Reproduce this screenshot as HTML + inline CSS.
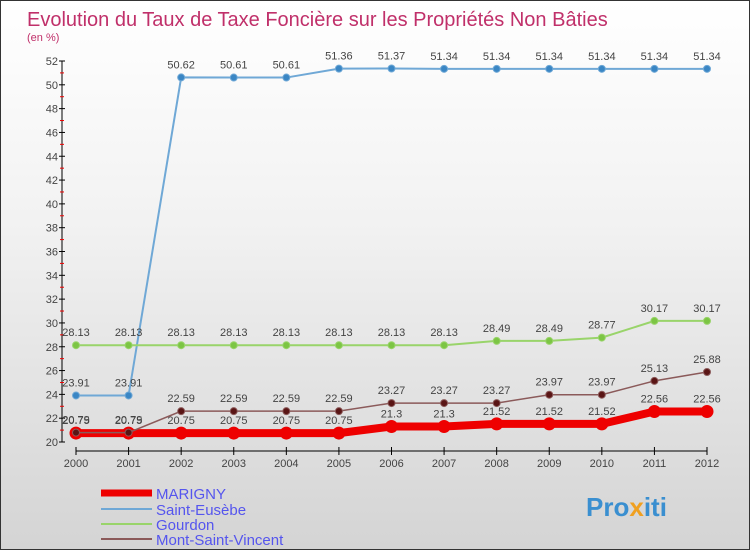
<!DOCTYPE html>
<html><head><meta charset="utf-8"><style>
body{margin:0}
#c{width:750px;height:550px;position:relative;overflow:hidden;box-sizing:border-box;border:1px solid #333;background:linear-gradient(#ffffff,#f2f2f2 40%,#d4d4d4);font-family:"Liberation Sans",sans-serif}
</style></head><body>
<div id="c">
<svg id="s" width="750" height="550" style="position:absolute;left:0;top:0">
<text x="26" y="25" font-size="20" fill="#c0306a">Evolution du Taux de Taxe Foncière sur les Propriétés Non Bâties</text>
<text x="26" y="40" font-size="11" fill="#c0306a">(en %)</text>
<g id="axes"></g><g id="series"></g>
<g>
<line x1="100" y1="492" x2="151" y2="492" stroke="#ee0000" stroke-width="7"/>
<text x="155" y="498" font-size="15" fill="#5555ee">MARIGNY</text>
<line x1="100" y1="508" x2="151" y2="508" stroke="#6fa8d6" stroke-width="2"/>
<text x="155" y="514" font-size="15" fill="#5555ee">Saint-Eusèbe</text>
<line x1="100" y1="523" x2="151" y2="523" stroke="#99d46a" stroke-width="2"/>
<text x="155" y="529" font-size="15" fill="#5555ee">Gourdon</text>
<line x1="100" y1="538" x2="151" y2="538" stroke="#8b5a5a" stroke-width="2"/>
<text x="155" y="544" font-size="15" fill="#5555ee">Mont-Saint-Vincent</text>
</g>
<text x="585" y="515" font-size="26" font-weight="bold" fill="#3a8fd0">Pro<tspan fill="#f0a020">x</tspan>iti</text>
</svg>
</div>
<script>
const years=[2000,2001,2002,2003,2004,2005,2006,2007,2008,2009,2010,2011,2012];
const marigny=[20.75,20.75,20.75,20.75,20.75,20.75,21.3,21.3,21.52,21.52,21.52,22.56,22.56];
const saintEusebe=[23.91,23.91,50.62,50.61,50.61,51.36,51.37,51.34,51.34,51.34,51.34,51.34,51.34];
const gourdon=[28.13,28.13,28.13,28.13,28.13,28.13,28.13,28.13,28.49,28.49,28.77,30.17,30.17];
const montSaintVincent=[20.79,20.79,22.59,22.59,22.59,22.59,23.27,23.27,23.27,23.97,23.97,25.13,25.88];
const yTicks=[20,22,24,26,28,30,32,34,36,38,40,42,44,46,48,50,52];
const NS="http://www.w3.org/2000/svg";
const X=i=>75+i*(706-75)/(years.length-1);
const Y=v=>441-(v-20)*(441-60)/32;
function mk(t,a,p){const e=document.createElementNS(NS,t);for(const k in a)e.setAttribute(k,a[k]);p.appendChild(e);return e;}
const ax=document.getElementById('axes'),sg=document.getElementById('series');
const yl=mk('line',{x1:61,y1:60,x2:61,y2:441,stroke:'#000'},ax);


yTicks.forEach(v=>{
 mk('line',{x1:58,y1:Y(v),x2:64,y2:Y(v),stroke:'#000'},ax);
 if(v<52)mk('line',{x1:59,y1:Y(v+1),x2:63,y2:Y(v+1),stroke:'#e00'},ax);
 const t=mk('text',{x:57,y:Y(v)+4,'font-size':11,fill:'#444','text-anchor':'end'},ax);t.textContent=v;
 
 
});
const xl=mk('line',{x1:75,y1:450,x2:706,y2:450,stroke:'#000'},ax);


years.forEach((y,i)=>{
 mk('line',{x1:X(i),y1:446,x2:X(i),y2:454,stroke:'#000'},ax);
 const t=mk('text',{x:X(i),y:466,'font-size':11,fill:'#444','text-anchor':'middle'},ax);t.textContent=y;
 
 
});
function series(vals,name,color,dot,w,r){
 const g=mk('g',{},sg);
 
 
 mk('polyline',{points:vals.map((v,i)=>X(i)+','+Y(v)).join(' '),fill:'none',stroke:color,'stroke-width':w},g);
 vals.forEach((v,i)=>{
  const c=mk('circle',{cx:X(i),cy:Y(v),r:r,fill:dot,stroke:color,'stroke-width':1},g);
  
  
  const t=mk('text',{x:X(i),y:Y(v)-9,'font-size':11,fill:'#444','text-anchor':'middle'},g);t.textContent=v;
  
  
 });
}
series(saintEusebe,'saint-eusebe-series','#6fa8d6','#3a86c4',2,3.5);
series(gourdon,'gourdon-series','#99d46a','#7cc544',2,3.5);
series(marigny,'marigny-series','#ee0000','#ee0000',8,6);
series(montSaintVincent,'mont-saint-vincent-series','#8b5a5a','#5a1515',1.5,3.5);
</script>
</body></html>
